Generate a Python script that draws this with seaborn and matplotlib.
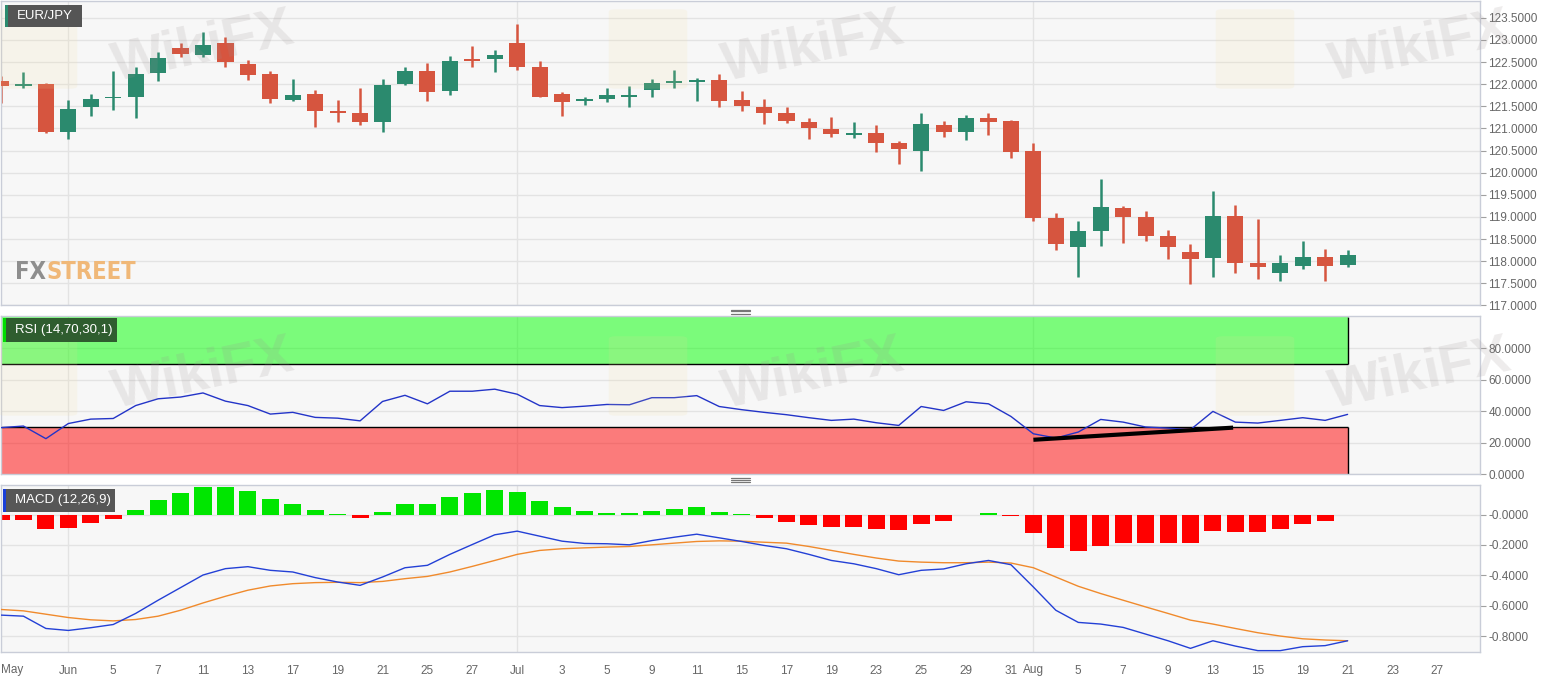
import numpy as np
import pandas as pd
import matplotlib
matplotlib.use("Agg")
import matplotlib.pyplot as plt
import matplotlib.patches as patches
from matplotlib.lines import Line2D
import seaborn as sns


# ---- data (EUR/JPY daily, May 29 - Aug 21 2019) ----
first_day = "2019-05-29"

open_ = [122.08, 121.97, 122.00, 120.91, 121.48, 121.68, 121.70, 122.26, 122.82, 122.67,
         122.92, 122.46, 122.23, 121.64, 121.77, 121.36, 121.34, 121.14, 122.00, 122.30,
         121.85, 122.54, 122.57, 122.93, 122.38, 121.77, 121.63, 121.67, 121.71, 121.87,
         122.03, 122.06, 122.10, 121.64, 121.48, 121.34, 121.15, 120.98, 120.85, 120.89,
         120.68, 120.50, 121.08, 120.91, 121.23, 121.17, 120.48, 118.98, 118.33, 118.69,
         119.20, 118.99, 118.56, 118.22, 118.07, 119.02, 117.95, 117.74, 117.89, 118.10,
         117.91]
high = [122.19, 122.27, 122.02, 121.64, 121.78, 122.29, 122.40, 122.72, 122.92, 123.17,
        123.07, 122.55, 122.29, 122.12, 121.87, 121.64, 121.92, 122.12, 122.40, 122.48,
        122.63, 122.87, 122.78, 123.35, 122.53, 121.83, 121.70, 121.91, 121.96, 122.11,
        122.33, 122.14, 122.23, 121.85, 121.67, 121.49, 121.24, 121.25, 121.15, 121.08,
        120.71, 121.34, 121.17, 121.30, 121.36, 121.19, 120.68, 119.10, 118.92, 119.86,
        119.25, 119.14, 118.70, 118.39, 119.58, 119.28, 118.95, 118.14, 118.46, 118.27,
        118.25]
low = [121.57, 121.91, 120.90, 120.77, 121.28, 121.42, 121.24, 122.08, 122.61, 122.61,
       122.40, 122.10, 121.58, 121.61, 121.04, 121.15, 121.08, 120.92, 121.98, 121.63,
       121.76, 122.38, 122.27, 122.33, 121.70, 121.29, 121.52, 121.59, 121.49, 121.72,
       121.92, 121.61, 121.49, 121.40, 121.09, 121.13, 120.77, 120.80, 120.79, 120.47,
       120.20, 120.04, 120.80, 120.73, 120.86, 120.34, 118.92, 118.25, 117.64, 118.35,
       118.42, 118.46, 118.06, 117.49, 117.64, 117.74, 117.61, 117.55, 117.83, 117.55,
       117.86]
close = [121.97, 121.99, 120.92, 121.45, 121.67, 121.70, 122.23, 122.59, 122.69, 122.89,
         122.50, 122.21, 121.67, 121.76, 121.39, 121.35, 121.15, 121.98, 122.30, 121.83,
         122.53, 122.53, 122.67, 122.40, 121.72, 121.59, 121.65, 121.76, 121.72, 122.02,
         122.04, 122.10, 121.61, 121.51, 121.34, 121.17, 121.00, 120.87, 120.89, 120.67,
         120.53, 121.10, 120.92, 121.23, 121.14, 120.47, 118.98, 118.39, 118.69, 119.23,
         119.01, 118.58, 118.33, 118.06, 119.02, 117.95, 117.86, 117.95, 118.10, 117.89,
         118.14]

rsi = [29.6, 30.6, 22.6, 32.2, 35.0, 35.4, 43.6, 47.9, 49.0, 51.6,
       46.4, 43.6, 38.2, 39.3, 36.1, 35.6, 33.9, 46.2, 50.1, 44.7,
       52.7, 52.7, 54.0, 50.8, 43.6, 42.3, 43.2, 44.3, 44.1, 48.6,
       48.6, 49.9, 43.0, 41.0, 39.3, 37.8, 35.9, 34.2, 35.0, 32.7,
       31.0, 43.0, 40.5, 46.0, 44.7, 36.7, 25.7, 23.0, 26.8, 34.8,
       33.1, 30.0, 29.3, 28.3, 39.9, 33.1, 32.5, 34.2, 35.9, 34.2,
       38.0]

macd = [-0.662, -0.669, -0.750, -0.763, -0.745, -0.724, -0.651, -0.564, -0.481, -0.398,
        -0.356, -0.343, -0.367, -0.378, -0.415, -0.444, -0.466, -0.411, -0.350, -0.334,
        -0.262, -0.197, -0.133, -0.109, -0.142, -0.175, -0.190, -0.192, -0.199, -0.171,
        -0.149, -0.129, -0.153, -0.177, -0.203, -0.225, -0.262, -0.302, -0.324, -0.356,
        -0.396, -0.367, -0.358, -0.324, -0.302, -0.330, -0.477, -0.630, -0.710, -0.721,
        -0.743, -0.787, -0.831, -0.881, -0.831, -0.866, -0.896, -0.896, -0.870, -0.863,
        -0.831]
signal = [-0.625, -0.634, -0.656, -0.678, -0.693, -0.700, -0.691, -0.669, -0.630, -0.582,
          -0.538, -0.498, -0.470, -0.455, -0.448, -0.446, -0.448, -0.440, -0.422, -0.407,
          -0.378, -0.341, -0.302, -0.262, -0.236, -0.225, -0.219, -0.214, -0.210, -0.199,
          -0.188, -0.177, -0.173, -0.175, -0.182, -0.188, -0.210, -0.236, -0.262, -0.286,
          -0.306, -0.313, -0.317, -0.317, -0.313, -0.319, -0.350, -0.411, -0.472, -0.520,
          -0.564, -0.608, -0.651, -0.695, -0.721, -0.750, -0.778, -0.800, -0.818, -0.826,
          -0.831]
hist = [-0.035, -0.035, -0.094, -0.085, -0.057, -0.028, 0.031, 0.096, 0.142, 0.184,
        0.179, 0.153, 0.100, 0.070, 0.031, 0.007, -0.020, 0.020, 0.070, 0.070,
        0.118, 0.142, 0.162, 0.151, 0.092, 0.048, 0.022, 0.013, 0.009, 0.024,
        0.035, 0.048, 0.020, 0.002, -0.020, -0.046, -0.066, -0.083, -0.083, -0.094,
        -0.100, -0.061, -0.044, -0.004, 0.010, -0.011, -0.120, -0.219, -0.243, -0.205,
        -0.186, -0.184, -0.184, -0.184, -0.107, -0.116, -0.116, -0.094, -0.061, -0.039,
        -0.002]

# hand-drawn divergence line on the RSI (trading-day index, RSI value)
trend_idx = [46.0, 54.9]
trend_rsi = [21.9, 29.6]

rsi_upper, rsi_lower = 70, 30

tick_dates = ["2019-05-29", "2019-06-03", "2019-06-05", "2019-06-07", "2019-06-11",
              "2019-06-13", "2019-06-17", "2019-06-19", "2019-06-21", "2019-06-25",
              "2019-06-27", "2019-07-01", "2019-07-03", "2019-07-05", "2019-07-09",
              "2019-07-11", "2019-07-15", "2019-07-17", "2019-07-19", "2019-07-23",
              "2019-07-25", "2019-07-29", "2019-07-31", "2019-08-01", "2019-08-05",
              "2019-08-07", "2019-08-09", "2019-08-13", "2019-08-15", "2019-08-19",
              "2019-08-21", "2019-08-23", "2019-08-27"]
tick_labels = ["May", "Jun", "5", "7", "11", "13", "17", "19", "21", "25", "27",
               "Jul", "3", "5", "9", "11", "15", "17", "19", "23", "25", "29", "31",
               "Aug", "5", "7", "9", "13", "15", "19", "21", "23", "27"]
month_starts = ["2019-06-03", "2019-07-01", "2019-08-01"]

price_ticks = np.arange(117.0, 123.51, 0.5)
rsi_ticks = [0, 20, 40, 60, 80]
macd_ticks = [0.0, -0.2, -0.4, -0.6, -0.8]
macd_labels = ["-0.0000", "-0.2000", "-0.4000", "-0.6000", "-0.8000"]

# ---- styling ----
UP = "#2b8a6e"
DOWN = "#d6553f"
PANEL_BG = "#f7f7f7"
GRID = "#e3e3e3"
SPINE = "#c9cdd8"
TICK_TXT = "#666666"

sns.set_style("white")
plt.rcParams["font.family"] = ["Liberation Sans", "DejaVu Sans"]

W, H = 1565, 678
fig = plt.figure(figsize=(W / 100, H / 100), dpi=100)
fig.patch.set_facecolor("white")


def px_rect(x0, y0, x1, y1):
    return [x0 / W, 1 - y1 / H, (x1 - x0) / W, (y1 - y0) / H]


# trading-day axis built from the calendar
days = pd.bdate_range(first_day, "2019-08-30")
pos = {d.strftime("%Y-%m-%d"): i for i, d in enumerate(days)}
n = len(close)
idx = np.arange(n)

ax_p = fig.add_axes(px_rect(1, 1, 1480, 305.5))
ax_r = fig.add_axes(px_rect(1, 315.7, 1480, 474.3))
ax_m = fig.add_axes(px_rect(1, 485, 1480, 652))

for ax in (ax_p, ax_r, ax_m):
    ax.set_facecolor(PANEL_BG)
    ax.set_xlim(0.0, 65.9)
    for s in ax.spines.values():
        s.set_color(SPINE)
        s.set_linewidth(1.0)
    ax.yaxis.tick_right()
    ax.tick_params(axis="y", direction="out", length=4, width=0.8,
                   color="#a0a0a0", labelcolor=TICK_TXT, labelsize=8.5, pad=2)
    ax.grid(axis="y", color=GRID, linewidth=1)
    for m in month_starts:
        ax.axvline(pos[m], color=GRID, linewidth=1, zorder=0.5)
    ax.set_axisbelow(True)
    ax.set_xticks([pos[d] for d in tick_dates])

for ax in (ax_p, ax_r):
    ax.tick_params(axis="x", length=0, labelbottom=False)

# ---- price candles ----
o = np.array(open_)
c = np.array(close)
colors = [UP if cc >= oo else DOWN for oo, cc in zip(o, c)]
body_lo = np.minimum(o, c)
body_h = np.maximum(np.abs(c - o), 0.035)
ax_p.vlines(idx, low, high, colors=colors, linewidth=1.8, zorder=2)
ax_p.bar(idx, body_h, bottom=body_lo, width=0.72, color=colors, linewidth=0, zorder=3)
ax_p.set_ylim(117.0, 123.88)
ax_p.set_yticks(price_ticks)
ax_p.set_yticklabels([f"{v:.4f}" for v in price_ticks])

# ---- RSI ----
last = idx[-1]
ax_r.fill_between([-1, last], rsi_upper, 100, color="#00ff00", alpha=0.5, linewidth=0, zorder=1)
ax_r.fill_between([-1, last], 0, rsi_lower, color="#ff0000", alpha=0.5, linewidth=0, zorder=1)
ax_r.hlines([rsi_upper, rsi_lower], -1, last, color="black", linewidth=1, zorder=2)
ax_r.vlines([last, last], [rsi_upper, 0], [100, rsi_lower], color="black", linewidth=1, zorder=2)
sns.lineplot(x=idx, y=rsi, ax=ax_r, color="#2334c8", linewidth=1, zorder=4)
ax_r.plot(trend_idx, trend_rsi, color="black", linewidth=3, solid_capstyle="butt", zorder=5)
ax_r.set_ylim(0, 100.6)
ax_r.set_yticks(rsi_ticks)
ax_r.set_yticklabels([f"{v:.4f}" for v in rsi_ticks])
ax_r.set_xlabel("")
ax_r.set_ylabel("")

# ---- MACD ----
hcol = ["#00e600" if v >= 0 else "#ff0000" for v in hist]
ax_m.bar(idx, hist, width=0.76, color=hcol, linewidth=0, zorder=2)
sns.lineplot(x=idx, y=signal, ax=ax_m, color="#f08a2c", linewidth=1, zorder=3)
sns.lineplot(x=idx, y=macd, ax=ax_m, color="#2340d6", linewidth=1, zorder=4)
ax_m.set_ylim(-0.905, 0.195)
ax_m.set_yticks(macd_ticks)
ax_m.set_yticklabels(macd_labels)
ax_m.set_xlabel("")
ax_m.set_ylabel("")
ax_m.tick_params(axis="x", direction="out", length=4, width=0.8, color="#a0a0a0",
                 labelcolor=TICK_TXT, labelsize=8.5, pad=5)
ax_m.set_xticklabels(tick_labels)
ax_m.get_xticklabels()[0].set_horizontalalignment("left")


# ---- panel labels ----
def tag(x0, y0, w, h, text, fill, stripe):
    fig.add_artist(patches.Rectangle((x0 / W, 1 - (y0 + h) / H), w / W, h / H,
                                     transform=fig.transFigure, facecolor=fill,
                                     edgecolor="none", zorder=10))
    fig.add_artist(patches.Rectangle((x0 / W, 1 - (y0 + h) / H), 3 / W, h / H,
                                     transform=fig.transFigure, facecolor=stripe,
                                     edgecolor="none", zorder=11))
    fig.text((x0 + 12) / W, 1 - (y0 + h / 2) / H, text, color="white", fontsize=9.5,
             va="center", ha="left", zorder=12)


tag(5, 5, 77, 22, "EUR/JPY", "#555555", UP)
tag(3, 318, 114, 24, "RSI (14,70,30,1)", "#2f5d2f", "#00dd00")
tag(3, 489, 112, 23, "MACD (12,26,9)", "#575757", "#1a3fd8")

# FXStreet logo: "FX" then "STREET" placed right after its measured width
logo_font = dict(fontsize=17, fontweight="bold", fontstretch="condensed",
                 va="center", ha="left", family=["DejaVu Sans", "Liberation Sans"])
fx = fig.text(15 / W, 1 - 272 / H, "FX", color="#8e8e8e", **logo_font)
renderer = fig.canvas.get_renderer()
fx_w = fx.get_window_extent(renderer).width
fig.text((15 + fx_w) / W, 1 - 272 / H, "STREET", color="#f0b878", **logo_font)

# panel resize handles
for yc in (311.5, 480.0):
    for dy in (-2, 0, 2):
        fig.add_artist(Line2D([731 / W, 750 / W], [1 - (yc + dy) / H] * 2,
                              transform=fig.transFigure, color="#777777", linewidth=0.9))

# WikiFX watermark tiles
for yc in (48, 375):
    for xc in (203, 813, 1420):
        fig.add_artist(patches.FancyBboxPatch(((xc - 198) / W, 1 - (yc + 38) / H),
                                              66 / W, 74 / H,
                                              boxstyle="round,pad=0.004",
                                              transform=fig.transFigure,
                                              facecolor="#f3dc9a", edgecolor="none",
                                              alpha=0.13, zorder=8))
        fig.text(xc / W, 1 - yc / H, "WikiFX", fontsize=40, fontweight="bold",
                 color="#9a9090", alpha=0.17, rotation=12, ha="center", va="center",
                 zorder=9)

fig.savefig("out.png", dpi=100)
